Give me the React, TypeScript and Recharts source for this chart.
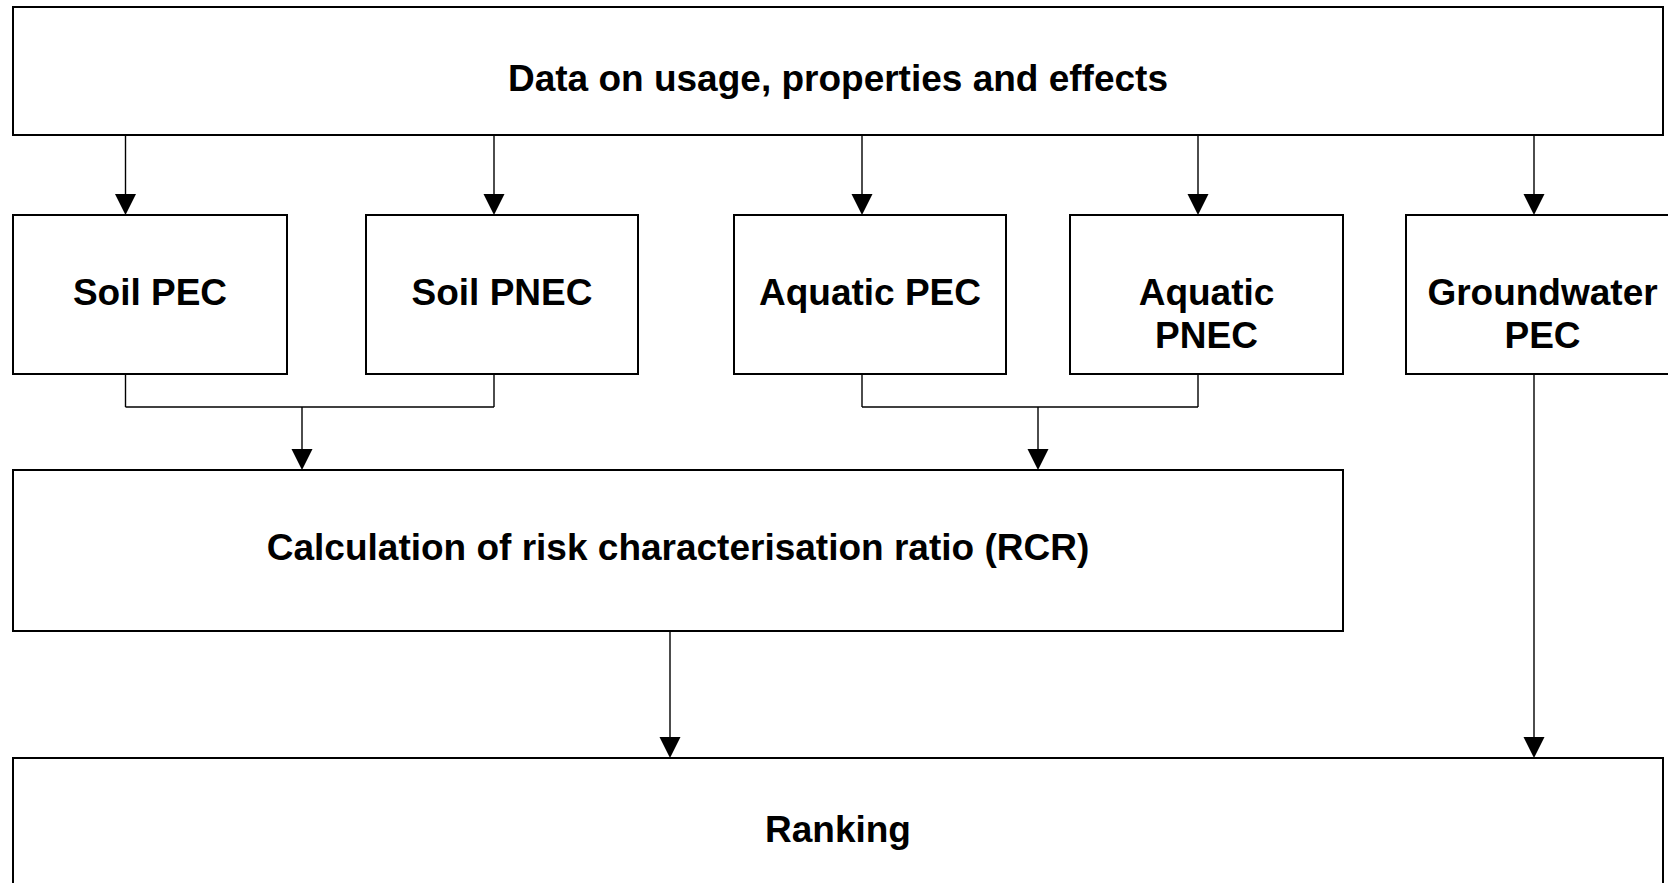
import { ScatterChart, Scatter, XAxis, YAxis, ReferenceArea, ReferenceLine } from "recharts";

const W = 1668;
const H = 883;

// boxes of the flow diagram (one string per text line)
const boxLabels: string[][] = [
  ["Data on usage, properties and effects"],
  ["Soil PEC"],
  ["Soil PNEC"],
  ["Aquatic PEC"],
  ["Aquatic", "PNEC"],
  ["Groundwater", "PEC"],
  ["Calculation of risk characterisation ratio (RCR)"],
  ["Ranking"],
];
const boxX1 = [13, 13, 366, 734, 1070, 1406, 13, 13];
const boxX2 = [1663, 287, 638, 1006, 1343, 1679, 1343, 1663];
const boxY1 = [7, 215, 215, 215, 215, 215, 470, 758];
const boxY2 = [135, 374, 374, 374, 374, 374, 631, 886];

// arrows (vertical, pointing down)
const arrowX = [125.5, 494, 862, 1198, 1534, 302, 1038, 670, 1534];
const arrowFrom = [135, 135, 135, 135, 135, 407, 407, 631, 374];
const arrowTo = [215, 215, 215, 215, 215, 470, 470, 758, 758];

// bracket joining each PEC / PNEC pair
const joinLeft = [125.5, 862];
const joinRight = [494, 1198];
const joinTop = 374;
const joinLevel = 407;

const FONT = '"Liberation Sans", Arial, sans-serif';
const FONT_SIZE = 37;
const LINE_GAP = 43;
const HEAD_W = 21;
const HEAD_H = 21;
const BOX_STROKE = 2;
const LINE_STROKE = 1.4;

const labelData = boxLabels.map((lines, i) => ({
  x: (boxX1[i] + boxX2[i]) / 2,
  y: boxY1[i] + (boxY2[i] - boxY1[i] > 140 ? 90 : 84),
  lines,
}));

const tipData = arrowX.map((x, i) => ({ x, y: arrowTo[i] }));

const LabelShape = (props: any) => {
  const { cx, cy, payload } = props;
  return (
    <text
      x={cx}
      y={cy}
      textAnchor="middle"
      fontFamily={FONT}
      fontWeight="bold"
      fontSize={FONT_SIZE}
      fill="#000"
    >
      {payload.lines.map((l: string, k: number) => (
        <tspan key={k} x={cx} dy={k === 0 ? 0 : LINE_GAP}>
          {l}
        </tspan>
      ))}
    </text>
  );
};

const HeadShape = (props: any) => {
  const { cx, cy } = props;
  return (
    <polygon
      points={`${cx - HEAD_W / 2},${cy - HEAD_H} ${cx + HEAD_W / 2},${cy - HEAD_H} ${cx},${cy}`}
      fill="#000"
    />
  );
};

export default function App() {
  return (
    <div style={{ width: W, height: H, background: "#fff" }}>
      <style>{"body{margin:0}"}</style>
      <ScatterChart width={W} height={H} margin={{ top: 0, right: 0, bottom: 0, left: 0 }}>
        <XAxis type="number" dataKey="x" domain={[0, W]} allowDataOverflow hide />
        <YAxis type="number" dataKey="y" domain={[0, H]} allowDataOverflow reversed hide />

        {boxLabels.map((_, i) => (
          <ReferenceArea
            key={"box" + i}
            x1={boxX1[i]}
            x2={boxX2[i]}
            y1={boxY1[i]}
            y2={boxY2[i]}
            fill="#fff"
            fillOpacity={1}
            stroke="#000"
            strokeWidth={BOX_STROKE}
            ifOverflow="visible"
          />
        ))}

        {arrowX.map((x, i) => (
          <ReferenceLine
            key={"arr" + i}
            segment={[
              { x, y: arrowFrom[i] },
              { x, y: arrowTo[i] - HEAD_H + 1 },
            ]}
            stroke="#000"
            strokeWidth={LINE_STROKE}
            ifOverflow="visible"
          />
        ))}

        {joinLeft.map((xl, i) => (
          <ReferenceLine
            key={"jl" + i}
            segment={[
              { x: xl, y: joinTop },
              { x: xl, y: joinLevel },
            ]}
            stroke="#000"
            strokeWidth={LINE_STROKE}
            ifOverflow="visible"
          />
        ))}
        {joinRight.map((xr, i) => (
          <ReferenceLine
            key={"jr" + i}
            segment={[
              { x: xr, y: joinTop },
              { x: xr, y: joinLevel },
            ]}
            stroke="#000"
            strokeWidth={LINE_STROKE}
            ifOverflow="visible"
          />
        ))}
        {joinLeft.map((xl, i) => (
          <ReferenceLine
            key={"jh" + i}
            segment={[
              { x: xl, y: joinLevel },
              { x: joinRight[i], y: joinLevel },
            ]}
            stroke="#000"
            strokeWidth={LINE_STROKE}
            ifOverflow="visible"
          />
        ))}

        <Scatter data={tipData} shape={<HeadShape />} isAnimationActive={false} />
        <Scatter data={labelData} shape={<LabelShape />} isAnimationActive={false} />
      </ScatterChart>
    </div>
  );
}
